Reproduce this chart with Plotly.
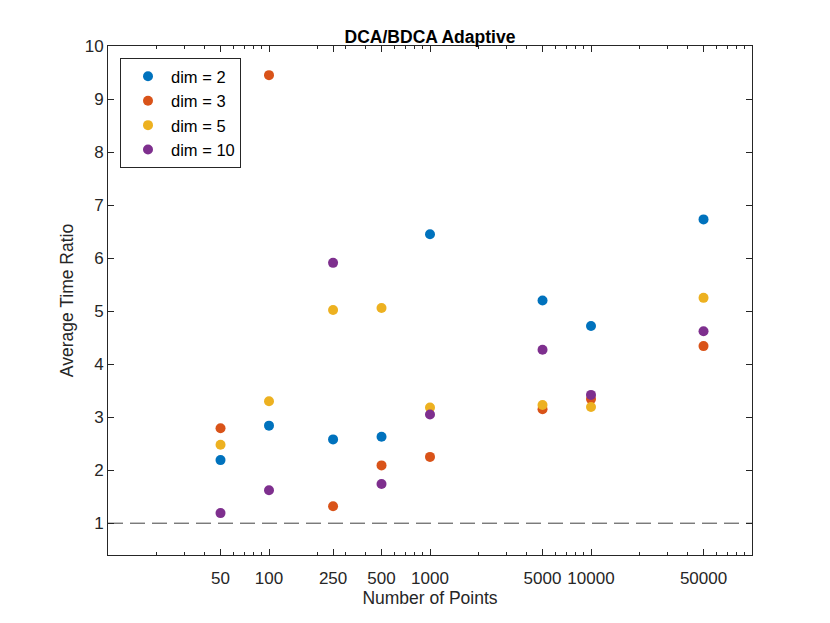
import plotly.graph_objects as go

points = [50, 100, 250, 500, 1000, 5000, 10000, 50000]
dim2 = [2.19, 2.84, 2.58, 2.63, 6.45, 5.20, 4.72, 6.73]
dim3 = [2.79, 9.45, 1.32, 2.09, 2.25, 3.15, 3.34, 4.34]
dim5 = [2.48, 3.30, 5.02, 5.06, 3.18, 3.23, 3.19, 5.25]
dim10 = [1.19, 1.62, 5.91, 1.74, 3.05, 4.27, 3.42, 4.62]
series_names = ["dim = 2", "dim = 3", "dim = 5", "dim = 10"]
colors = ["#0072BD", "#D95319", "#EDB120", "#7E2F8E"]
xtick_labels = ["50", "100", "250", "500", "1000", "5000", "10000", "50000"]
ytick_vals = [1, 2, 3, 4, 5, 6, 7, 8, 9, 10]
baseline = 1

minor_vals = [m * 10 ** e for e in range(1, 5) for m in range(2, 10)]

# page body has an 8px margin, so the figure is shrunk by that amount
W, H = 822, 615
L, R, T, B = 100, 78, 38, 68

fig = go.Figure()
for name, vals, c in zip(series_names, [dim2, dim3, dim5, dim10], colors):
    fig.add_trace(go.Scatter(x=points, y=vals, mode="markers", name=name,
                             marker=dict(color=c, size=10)))

fig.add_shape(type="line", xref="paper", x0=0, x1=1, yref="y", y0=baseline, y1=baseline,
              line=dict(color="#404040", width=1, dash="15px,7px"), layer="below")

axis_color = "#262626"
fig.update_layout(
    width=W, height=H,
    margin=dict(l=L, r=R, t=T, b=B),
    paper_bgcolor="white", plot_bgcolor="white",
    font=dict(family="Liberation Sans, Arial, sans-serif", color=axis_color, size=17),
    title=dict(text="<b>DCA/BDCA Adaptive</b>", x=(L + (W - R)) / 2 / W, xanchor="center",
               yref="container", y=1 - 29 / H, yanchor="middle",
               font=dict(size=17.5, color="black")),
    xaxis=dict(type="log", range=[1, 5], tickmode="array", tickvals=points, ticktext=xtick_labels,
               ticks="inside", ticklen=6, tickcolor=axis_color, showline=True, linecolor=axis_color,
               linewidth=1, mirror="ticks", showgrid=False, zeroline=False, ticklabelstandoff=8,
               minor=dict(tickmode="array", tickvals=minor_vals, ticks="inside", ticklen=3,
                          tickcolor=axis_color, showgrid=False),
               title=dict(text="Number of Points", font=dict(size=17.5), standoff=0)),
    yaxis=dict(range=[0.4, 10], tickmode="array", tickvals=ytick_vals,
               ticks="inside", ticklen=6, tickcolor=axis_color, showline=True, linecolor=axis_color,
               linewidth=1, mirror="ticks", showgrid=False, zeroline=False,
               title=dict(text="Average Time Ratio", font=dict(size=17.5), standoff=6)),
    legend=dict(x=12 / 644, y=1 - 12 / 509, xanchor="left", yanchor="top",
                bgcolor="white", bordercolor=axis_color, borderwidth=1, indentation=4,
                itemwidth=36,
                font=dict(size=16.5, color="black"), tracegroupgap=0),
    showlegend=True,
)

fig.write_html("out.html")
